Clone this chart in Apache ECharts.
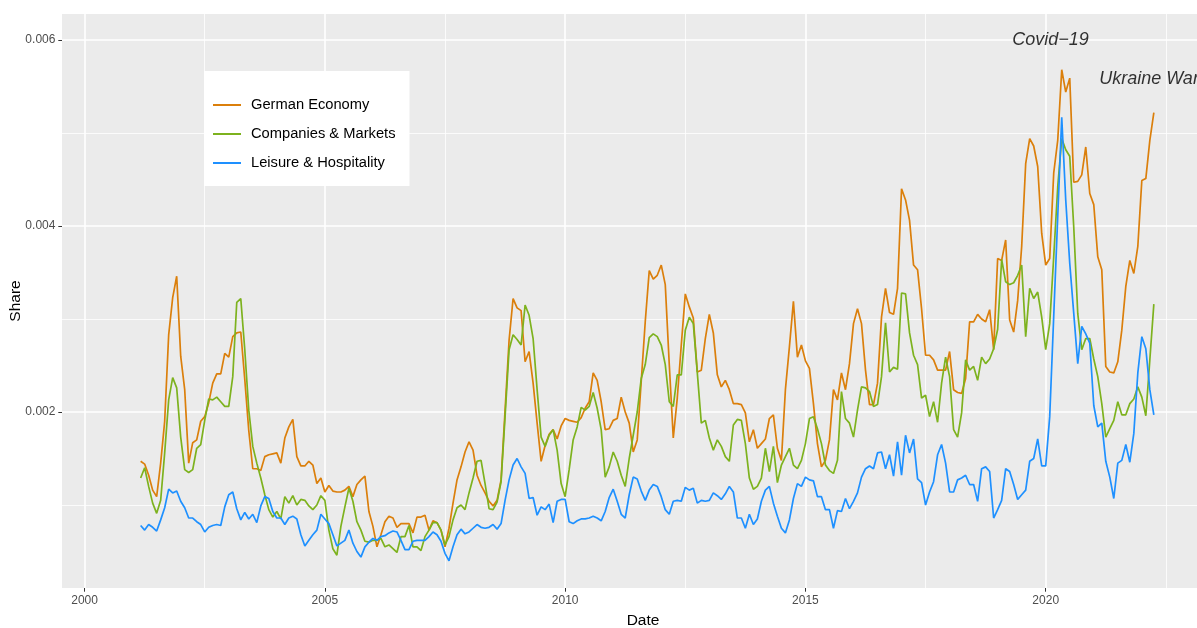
<!DOCTYPE html>
<html>
<head>
<meta charset="utf-8">
<script src="https://cdn.jsdelivr.net/npm/echarts@6/dist/echarts.min.js"></script>
<style>
html, body { margin: 0; padding: 0; background: #fff; }
#chart { width: 1197px; height: 628px; }
</style>
</head>
<body>
<div id="chart"></div>
<script>
// monthly topic shares, first value is 2001-03, last is 2022-04
const startYear = 2001;
const startMonth = 3;

const germanEconomy = [
  0.00147,0.00144,0.00132,0.00116,0.00109,0.00145,0.00190,0.00283,0.00323,0.00346,
  0.00260,0.00224,0.00145,0.00167,0.00170,0.00190,0.00195,0.00210,0.00231,0.00241,
  0.00241,0.00263,0.00259,0.00281,0.00285,0.00286,0.00235,0.00180,0.00139,0.00139,
  0.00137,0.00152,0.00154,0.00155,0.00156,0.00145,0.00172,0.00184,0.00192,0.00152,
  0.00142,0.00142,0.00147,0.00143,0.00123,0.00129,0.00114,0.00121,0.00115,0.00114,
  0.00114,0.00116,0.00120,0.00109,0.00122,0.00127,0.00131,0.00093,0.00077,0.00055,
  0.00068,0.00082,0.00088,0.00086,0.00076,0.00080,0.00080,0.00080,0.00070,0.00087,
  0.00087,0.00089,0.00073,0.00083,0.00081,0.00073,0.00055,0.00075,0.00102,0.00127,
  0.00141,0.00157,0.00168,0.00159,0.00132,0.00121,0.00113,0.00104,0.00099,0.00105,
  0.00127,0.00202,0.00277,0.00322,0.00312,0.00309,0.00254,0.00265,0.00231,0.00188,
  0.00147,0.00164,0.00176,0.00181,0.00171,0.00185,0.00193,0.00191,0.00190,0.00189,
  0.00194,0.00204,0.00211,0.00242,0.00234,0.00211,0.00181,0.00182,0.00191,0.00193,
  0.00216,0.00200,0.00188,0.00157,0.00170,0.00233,0.00297,0.00352,0.00343,0.00347,
  0.00358,0.00337,0.00251,0.00172,0.00215,0.00272,0.00327,0.00313,0.00301,0.00243,
  0.00245,0.00279,0.00305,0.00285,0.00240,0.00227,0.00234,0.00224,0.00209,0.00209,
  0.00208,0.00199,0.00168,0.00181,0.00161,0.00166,0.00171,0.00193,0.00197,0.00161,
  0.00148,0.00224,0.00270,0.00319,0.00259,0.00272,0.00255,0.00247,0.00209,0.00166,
  0.00141,0.00148,0.00170,0.00224,0.00213,0.00242,0.00224,0.00252,0.00295,0.00311,
  0.00295,0.00245,0.00208,0.00208,0.00231,0.00302,0.00333,0.00307,0.00305,0.00333,
  0.00440,0.00428,0.00406,0.00358,0.00353,0.00311,0.00261,0.00261,0.00256,0.00245,
  0.00245,0.00245,0.00265,0.00224,0.00221,0.00220,0.00236,0.00297,0.00297,0.00305,
  0.00300,0.00297,0.00310,0.00267,0.00365,0.00363,0.00385,0.00299,0.00286,0.00320,
  0.00378,0.00467,0.00494,0.00486,0.00464,0.00392,0.00358,0.00365,0.00457,0.00492,
  0.00568,0.00544,0.00559,0.00447,0.00448,0.00455,0.00485,0.00435,0.00423,0.00367,
  0.00353,0.00249,0.00243,0.00242,0.00254,0.00288,0.00335,0.00363,0.00349,0.00378,
  0.00449,0.00451,0.00492,0.00522
];

const companiesMarkets = [
  0.00129,0.00140,0.00120,0.00102,0.00091,0.00105,0.00156,0.00213,0.00237,0.00226,
  0.00173,0.00138,0.00135,0.00138,0.00161,0.00165,0.00191,0.00214,0.00213,0.00216,
  0.00211,0.00206,0.00206,0.00238,0.00318,0.00322,0.00267,0.00202,0.00163,0.00145,
  0.00129,0.00111,0.00095,0.00087,0.00093,0.00085,0.00109,0.00102,0.00110,0.00100,
  0.00106,0.00105,0.00099,0.00095,0.00100,0.00110,0.00105,0.00073,0.00053,0.00046,
  0.00077,0.00098,0.00118,0.00104,0.00082,0.00073,0.00061,0.00060,0.00062,0.00062,
  0.00064,0.00055,0.00057,0.00053,0.00049,0.00066,0.00066,0.00078,0.00055,0.00055,
  0.00051,0.00066,0.00073,0.00081,0.00081,0.00073,0.00057,0.00066,0.00084,0.00097,
  0.00100,0.00095,0.00113,0.00129,0.00147,0.00148,0.00123,0.00096,0.00095,0.00103,
  0.00125,0.00195,0.00267,0.00283,0.00278,0.00272,0.00315,0.00304,0.00279,0.00224,
  0.00173,0.00163,0.00175,0.00181,0.00159,0.00123,0.00109,0.00138,0.00170,0.00184,
  0.00205,0.00202,0.00206,0.00221,0.00204,0.00181,0.00130,0.00141,0.00157,0.00147,
  0.00132,0.00120,0.00150,0.00175,0.00200,0.00236,0.00251,0.00280,0.00284,0.00281,
  0.00272,0.00251,0.00211,0.00206,0.00240,0.00240,0.00288,0.00302,0.00295,0.00242,
  0.00188,0.00191,0.00172,0.00159,0.00170,0.00163,0.00152,0.00147,0.00186,0.00192,
  0.00191,0.00166,0.00129,0.00117,0.00120,0.00129,0.00161,0.00136,0.00163,0.00124,
  0.00143,0.00152,0.00161,0.00143,0.00139,0.00148,0.00166,0.00193,0.00195,0.00182,
  0.00166,0.00143,0.00137,0.00134,0.00148,0.00222,0.00193,0.00188,0.00173,0.00202,
  0.00227,0.00226,0.00222,0.00206,0.00208,0.00238,0.00296,0.00243,0.00248,0.00246,
  0.00328,0.00327,0.00285,0.00261,0.00251,0.00215,0.00218,0.00195,0.00211,0.00189,
  0.00231,0.00259,0.00238,0.00181,0.00173,0.00199,0.00256,0.00245,0.00249,0.00234,
  0.00259,0.00252,0.00257,0.00268,0.00289,0.00364,0.00340,0.00337,0.00339,0.00347,
  0.00358,0.00281,0.00333,0.00322,0.00329,0.00302,0.00267,0.00295,0.00367,0.00442,
  0.00494,0.00482,0.00475,0.00399,0.00306,0.00267,0.00279,0.00279,0.00257,0.00238,
  0.00209,0.00173,0.00182,0.00191,0.00211,0.00197,0.00197,0.00209,0.00214,0.00227,
  0.00216,0.00196,0.00256,0.00316
];

const leisureHospitality = [
  0.00078,0.00073,0.00079,0.00076,0.00072,0.00084,0.00097,0.00117,0.00113,0.00115,
  0.00104,0.00097,0.00086,0.00086,0.00082,0.00079,0.00071,0.00076,0.00078,0.00079,
  0.00078,0.00098,0.00111,0.00114,0.00096,0.00084,0.00092,0.00085,0.00090,0.00081,
  0.00099,0.00109,0.00107,0.00093,0.00086,0.00086,0.00079,0.00086,0.00088,0.00085,
  0.00068,0.00056,0.00062,0.00068,0.00073,0.00090,0.00085,0.00080,0.00068,0.00056,
  0.00059,0.00062,0.00073,0.00059,0.00050,0.00044,0.00055,0.00060,0.00064,0.00062,
  0.00066,0.00067,0.00070,0.00072,0.00071,0.00062,0.00052,0.00052,0.00061,0.00062,
  0.00062,0.00062,0.00066,0.00071,0.00068,0.00061,0.00048,0.00040,0.00055,0.00068,
  0.00074,0.00069,0.00071,0.00075,0.00079,0.00076,0.00075,0.00076,0.00079,0.00074,
  0.00080,0.00105,0.00127,0.00143,0.00150,0.00141,0.00134,0.00107,0.00108,0.00089,
  0.00098,0.00095,0.00101,0.00081,0.00104,0.00106,0.00106,0.00082,0.00080,0.00083,
  0.00085,0.00085,0.00086,0.00088,0.00086,0.00083,0.00093,0.00108,0.00117,0.00104,
  0.00090,0.00086,0.00111,0.00130,0.00128,0.00115,0.00105,0.00116,0.00122,0.00120,
  0.00109,0.00095,0.00090,0.00104,0.00105,0.00104,0.00119,0.00116,0.00118,0.00102,
  0.00105,0.00104,0.00105,0.00113,0.00110,0.00106,0.00112,0.00120,0.00114,0.00086,
  0.00086,0.00075,0.00090,0.00079,0.00085,0.00104,0.00116,0.00120,0.00102,0.00088,
  0.00075,0.00070,0.00084,0.00107,0.00123,0.00120,0.00130,0.00127,0.00126,0.00109,
  0.00109,0.00095,0.00095,0.00075,0.00094,0.00093,0.00107,0.00096,0.00104,0.00113,
  0.00130,0.00139,0.00142,0.00139,0.00156,0.00157,0.00139,0.00154,0.00131,0.00168,
  0.00132,0.00175,0.00156,0.00171,0.00128,0.00124,0.00100,0.00114,0.00125,0.00154,
  0.00165,0.00145,0.00114,0.00114,0.00127,0.00129,0.00132,0.00122,0.00122,0.00104,
  0.00139,0.00141,0.00136,0.00086,0.00095,0.00105,0.00139,0.00136,0.00122,0.00106,
  0.00111,0.00116,0.00147,0.00150,0.00171,0.00142,0.00142,0.00195,0.00303,0.00410,
  0.00517,0.00428,0.00360,0.00306,0.00252,0.00292,0.00284,0.00274,0.00207,0.00184,
  0.00188,0.00147,0.00130,0.00107,0.00145,0.00148,0.00165,0.00146,0.00177,0.00242,
  0.00281,0.00268,0.00224,0.00197
];

const seriesNames = ['German Economy', 'Companies & Markets', 'Leisure & Hospitality'];
const seriesColors = ['#DB7F0B', '#7DB21E', '#1E90FF'];

const xTicks = [2000, 2005, 2010, 2015, 2020];
const xMinorTicks = [2002.5, 2007.5, 2012.5, 2017.5, 2022.5];
const yTicks = [0.002, 0.004, 0.006];
const yMinorTicks = [0.001, 0.003, 0.005];

const events = ['Covid−19', 'Ukraine War'];
const eventDates = [2020.1, 2022.15];
const eventShares = [0.006, 0.00558];

// decimal year of each month
const dates = germanEconomy.map((_, i) => startYear + (startMonth - 1 + i) / 12);
const pair = arr => arr.map((v, i) => [dates[i], v]);

// the panel runs on past the right edge of the picture
const X_MIN = 1999.53, X_MAX = 2023.71;
const Y_MIN = 0.0001075, Y_MAX = 0.0062796;
const font = 'Liberation Sans, Arial, sans-serif';

const chart = echarts.init(document.getElementById('chart'), null, { renderer: 'canvas' });

const lineSeries = [germanEconomy, companiesMarkets, leisureHospitality].map((arr, k) => ({
  name: seriesNames[k],
  type: 'line',
  data: pair(arr),
  symbol: 'none',
  color: seriesColors[k],
  lineStyle: { width: 1.7, color: seriesColors[k] },
  z: 3
}));

chart.setOption({
  animation: false,
  backgroundColor: '#fff',
  textStyle: { fontFamily: font },
  grid: {
    left: 62, right: -27, top: 14, bottom: 40,
    outerBoundsMode: 'none',
    containLabel: false,
    show: true, backgroundColor: '#EBEBEB', borderWidth: 0
  },
  xAxis: [{
    type: 'value', min: X_MIN, max: X_MAX,
    name: 'Date', nameLocation: 'middle', nameGap: 24.5, nameMoveOverlap: false,
    nameTextStyle: { color: '#000', fontSize: 15.5, fontFamily: font },
    axisLine: { show: false },
    axisTick: { show: true, length: 3.7, customValues: xTicks, lineStyle: { color: '#333', width: 1 } },
    axisLabel: { customValues: xTicks, color: '#4D4D4D', fontSize: 12, margin: 7, formatter: v => String(Math.round(v)) },
    splitLine: { show: true, lineStyle: { color: '#fff', width: 1.6 } }
  }, {
    type: 'value', min: X_MIN, max: X_MAX, position: 'bottom',
    axisLine: { show: false }, axisLabel: { show: false },
    axisTick: { show: false, customValues: xMinorTicks },
    splitLine: { show: true, lineStyle: { color: '#fff', width: 0.8 } }
  }],
  yAxis: [{
    type: 'value', min: Y_MIN, max: Y_MAX,
    name: 'Share', nameLocation: 'middle', nameGap: 38, nameRotate: 90, nameMoveOverlap: false,
    nameTextStyle: { color: '#000', fontSize: 15.5, fontFamily: font },
    axisLine: { show: false },
    axisTick: { show: true, length: 3.7, customValues: yTicks, lineStyle: { color: '#333', width: 1 } },
    axisLabel: { customValues: yTicks, color: '#4D4D4D', fontSize: 12, margin: 6.6, formatter: v => v.toFixed(3) },
    splitLine: { show: true, lineStyle: { color: '#fff', width: 1.6 } }
  }, {
    type: 'value', min: Y_MIN, max: Y_MAX, position: 'left',
    axisLine: { show: false }, axisLabel: { show: false },
    axisTick: { show: false, customValues: yMinorTicks },
    splitLine: { show: true, lineStyle: { color: '#fff', width: 0.8 } }
  }],
  legend: {
    data: seriesNames,
    orient: 'vertical',
    left: 204, top: 71,
    padding: [25, 14, 14, 9],
    backgroundColor: '#fff',
    icon: 'rect',
    itemWidth: 28, itemHeight: 2, itemGap: 11,
    textStyle: { color: '#000', fontSize: 14.7, lineHeight: 18, padding: [0, 0, 0, 5], fontFamily: font },
    z: 6
  },
  series: lineSeries.concat([{
    name: 'events',
    type: 'scatter',
    symbolSize: 0,
    silent: true,
    data: events.map((n, i) => ({ name: n, value: [eventDates[i], eventShares[i]] })),
    label: {
      show: true, position: 'inside', align: 'center', verticalAlign: 'middle',
      formatter: p => p.name,
      fontStyle: 'italic', fontSize: 18, color: '#000', fontFamily: font
    },
    z: 5
  }])
});
</script>
</body>
</html>
